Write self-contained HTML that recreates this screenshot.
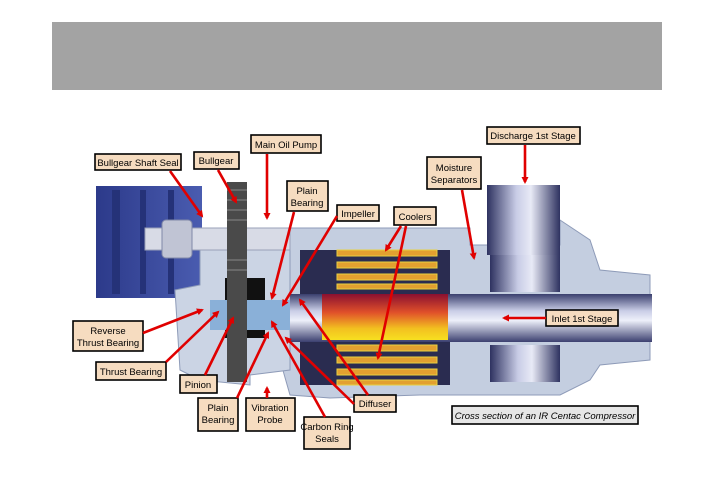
<!DOCTYPE html>
<html><head><meta charset="utf-8"><style>
html,body{margin:0;padding:0;background:#fff;}
svg{display:block}
text{font-family:"Liberation Sans",sans-serif;font-size:9.5px;fill:#000}
</style></head><body>
<svg width="713" height="504" viewBox="0 0 713 504" xmlns="http://www.w3.org/2000/svg">
<defs>
<linearGradient id="pipe" x1="0" y1="0" x2="0" y2="1">
<stop offset="0" stop-color="#3a3f6e"/><stop offset="0.35" stop-color="#c9cde6"/><stop offset="0.55" stop-color="#eef0fa"/><stop offset="1" stop-color="#3c4070"/></linearGradient>
<linearGradient id="hot" x1="0" y1="0" x2="0" y2="1">
<stop offset="0" stop-color="#8a1030"/><stop offset="0.4" stop-color="#e0502a"/><stop offset="0.75" stop-color="#f2c020"/><stop offset="1" stop-color="#f7e020"/></linearGradient>
<linearGradient id="vpipe" x1="0" y1="0" x2="1" y2="0">
<stop offset="0" stop-color="#2e3260"/><stop offset="0.4" stop-color="#c8cce6"/><stop offset="0.6" stop-color="#e8eaf6"/><stop offset="1" stop-color="#2e3260"/></linearGradient>
<linearGradient id="motor" x1="0" y1="0" x2="1" y2="0">
<stop offset="0" stop-color="#2c3a8a"/><stop offset="1" stop-color="#4a5cb0"/></linearGradient>
<marker id="ah" markerWidth="8" markerHeight="8" refX="5" refY="4" orient="auto" markerUnits="userSpaceOnUse"><path d="M0,0.5 L7,4 L0,7.5 z" fill="#e00000"/></marker>
</defs>
<rect x="52" y="22" width="610" height="68" fill="#a3a3a3"/>
<!-- motor -->
<rect x="96" y="186" width="106" height="112" fill="url(#motor)"/>
<g fill="#253278"><rect x="112" y="190" width="8" height="104"/><rect x="140" y="190" width="6" height="104"/><rect x="168" y="190" width="6" height="104"/></g>
<!-- outer casing -->
<path d="M290 228 L470 228 L470 245 L560 245 L560 220 L590 240 L600 270 L650 275 L650 360 L600 365 L590 380 L560 395 L420 395 L330 398 L290 395 L280 360 Z" fill="#c4cee0" stroke="#8e9bb8"/>
<!-- gearbox -->
<path d="M175 290 L200 285 L200 230 L290 230 L290 370 L250 375 L250 385 L200 380 L180 370 Z" fill="#cbd4e4" stroke="#8e9bb8"/>
<rect x="225" y="278" width="40" height="60" fill="#111"/>
<rect x="210" y="300" width="90" height="30" fill="#8ab0d8"/>
<!-- shaft top -->
<rect x="145" y="228" width="145" height="22" fill="#d8dbe6" stroke="#9aa0b8"/>
<rect x="162" y="220" width="30" height="38" rx="4" fill="#c0c4d4" stroke="#8088a8"/>
<!-- bullgear -->
<rect x="227" y="182" width="20" height="200" fill="#4a4a4a"/>
<g stroke="#888" stroke-width="1"><line x1="227" y1="190" x2="247" y2="190"/><line x1="227" y1="200" x2="247" y2="200"/><line x1="227" y1="210" x2="247" y2="210"/><line x1="227" y1="220" x2="247" y2="220"/><line x1="227" y1="260" x2="247" y2="260"/><line x1="227" y1="270" x2="247" y2="270"/></g>
<!-- inner chambers -->
<rect x="300" y="250" width="150" height="45" fill="#2a2c50"/>
<rect x="300" y="340" width="150" height="45" fill="#2a2c50"/>
<rect x="490" y="255" width="70" height="37" fill="url(#vpipe)"/>
<rect x="490" y="345" width="70" height="37" fill="url(#vpipe)"/>
<!-- coolers -->
<g fill="#e2a030" stroke="#e8d040" stroke-width="1">
<rect x="337" y="250" width="100" height="6"/><rect x="337" y="262" width="100" height="6"/><rect x="337" y="274" width="100" height="6"/><rect x="337" y="284" width="100" height="5"/>
<rect x="337" y="345" width="100" height="6"/><rect x="337" y="357" width="100" height="6"/><rect x="337" y="369" width="100" height="6"/><rect x="337" y="380" width="100" height="5"/></g>
<!-- main pipe -->
<rect x="290" y="294" width="362" height="48" fill="url(#pipe)"/>
<rect x="322" y="294" width="126" height="46" fill="url(#hot)"/>
<!-- discharge pipe -->
<rect x="487" y="185" width="73" height="70" fill="url(#vpipe)"/>
<!-- labels -->
<g fill="#f6dcc0" stroke="#000" stroke-width="1.6">
<rect x="95" y="154" width="86" height="16"/>
<rect x="194" y="152" width="45" height="17"/>
<rect x="251" y="135" width="70" height="18"/>
<rect x="287" y="181" width="41" height="30"/>
<rect x="337" y="205" width="42" height="16"/>
<rect x="394" y="207" width="42" height="18"/>
<rect x="427" y="157" width="54" height="32"/>
<rect x="487" y="127" width="93" height="17"/>
<rect x="546" y="310" width="72" height="16"/>
<rect x="73" y="321" width="70" height="30"/>
<rect x="96" y="362" width="70" height="18"/>
<rect x="180" y="375" width="37" height="18"/>
<rect x="198" y="398" width="40" height="33"/>
<rect x="246" y="398" width="49" height="33"/>
<rect x="304" y="417" width="46" height="32"/>
<rect x="354" y="395" width="42" height="17"/>
</g>
<rect x="452" y="406" width="186" height="18" fill="#e6e6e6" stroke="#000" stroke-width="1.6"/>
<!-- arrows -->
<g stroke="#e00000" stroke-width="2.6" fill="none" marker-end="url(#ah)">
<line x1="170" y1="171" x2="202" y2="216"/>
<line x1="218" y1="170" x2="236" y2="202"/>
<line x1="267" y1="154" x2="267" y2="218"/>
<line x1="294" y1="212" x2="272" y2="298"/>
<line x1="337" y1="216" x2="283" y2="305"/>
<line x1="401" y1="226" x2="386" y2="250"/>
<line x1="406" y1="226" x2="378" y2="358"/>
<line x1="462" y1="190" x2="474" y2="258"/>
<line x1="525" y1="145" x2="525" y2="182"/>
<line x1="546" y1="318" x2="504" y2="318"/>
<line x1="143" y1="333" x2="202" y2="310"/>
<line x1="166" y1="362" x2="218" y2="312"/>
<line x1="205" y1="375" x2="233" y2="318"/>
<line x1="237" y1="398" x2="268" y2="333"/>
<line x1="267" y1="398" x2="267" y2="388"/>
<line x1="325" y1="417" x2="272" y2="322"/>
<line x1="354" y1="404" x2="286" y2="338"/>
<line x1="368" y1="395" x2="300" y2="300"/>
</g>
<!-- text -->
<text x="138" y="166" text-anchor="middle">Bullgear Shaft Seal</text>
<text x="216" y="164" text-anchor="middle">Bullgear</text>
<text x="286" y="148" text-anchor="middle">Main Oil Pump</text>
<text x="307" y="194" text-anchor="middle">Plain</text><text x="307" y="206" text-anchor="middle">Bearing</text>
<text x="358" y="217" text-anchor="middle">Impeller</text>
<text x="415" y="220" text-anchor="middle">Coolers</text>
<text x="454" y="171" text-anchor="middle">Moisture</text><text x="454" y="183" text-anchor="middle">Separators</text>
<text x="533" y="139" text-anchor="middle">Discharge 1st Stage</text>
<text x="582" y="322" text-anchor="middle">Inlet 1st Stage</text>
<text x="108" y="334" text-anchor="middle">Reverse</text><text x="108" y="346" text-anchor="middle">Thrust Bearing</text>
<text x="131" y="375" text-anchor="middle">Thrust Bearing</text>
<text x="198" y="388" text-anchor="middle">Pinion</text>
<text x="218" y="411" text-anchor="middle">Plain</text><text x="218" y="423" text-anchor="middle">Bearing</text>
<text x="270" y="411" text-anchor="middle">Vibration</text><text x="270" y="423" text-anchor="middle">Probe</text>
<text x="327" y="430" text-anchor="middle">Carbon Ring</text><text x="327" y="442" text-anchor="middle">Seals</text>
<text x="375" y="407" text-anchor="middle">Diffuser</text>
<text x="545" y="419" text-anchor="middle" font-style="italic">Cross section of an IR Centac Compressor</text>
</svg>
</body></html>
